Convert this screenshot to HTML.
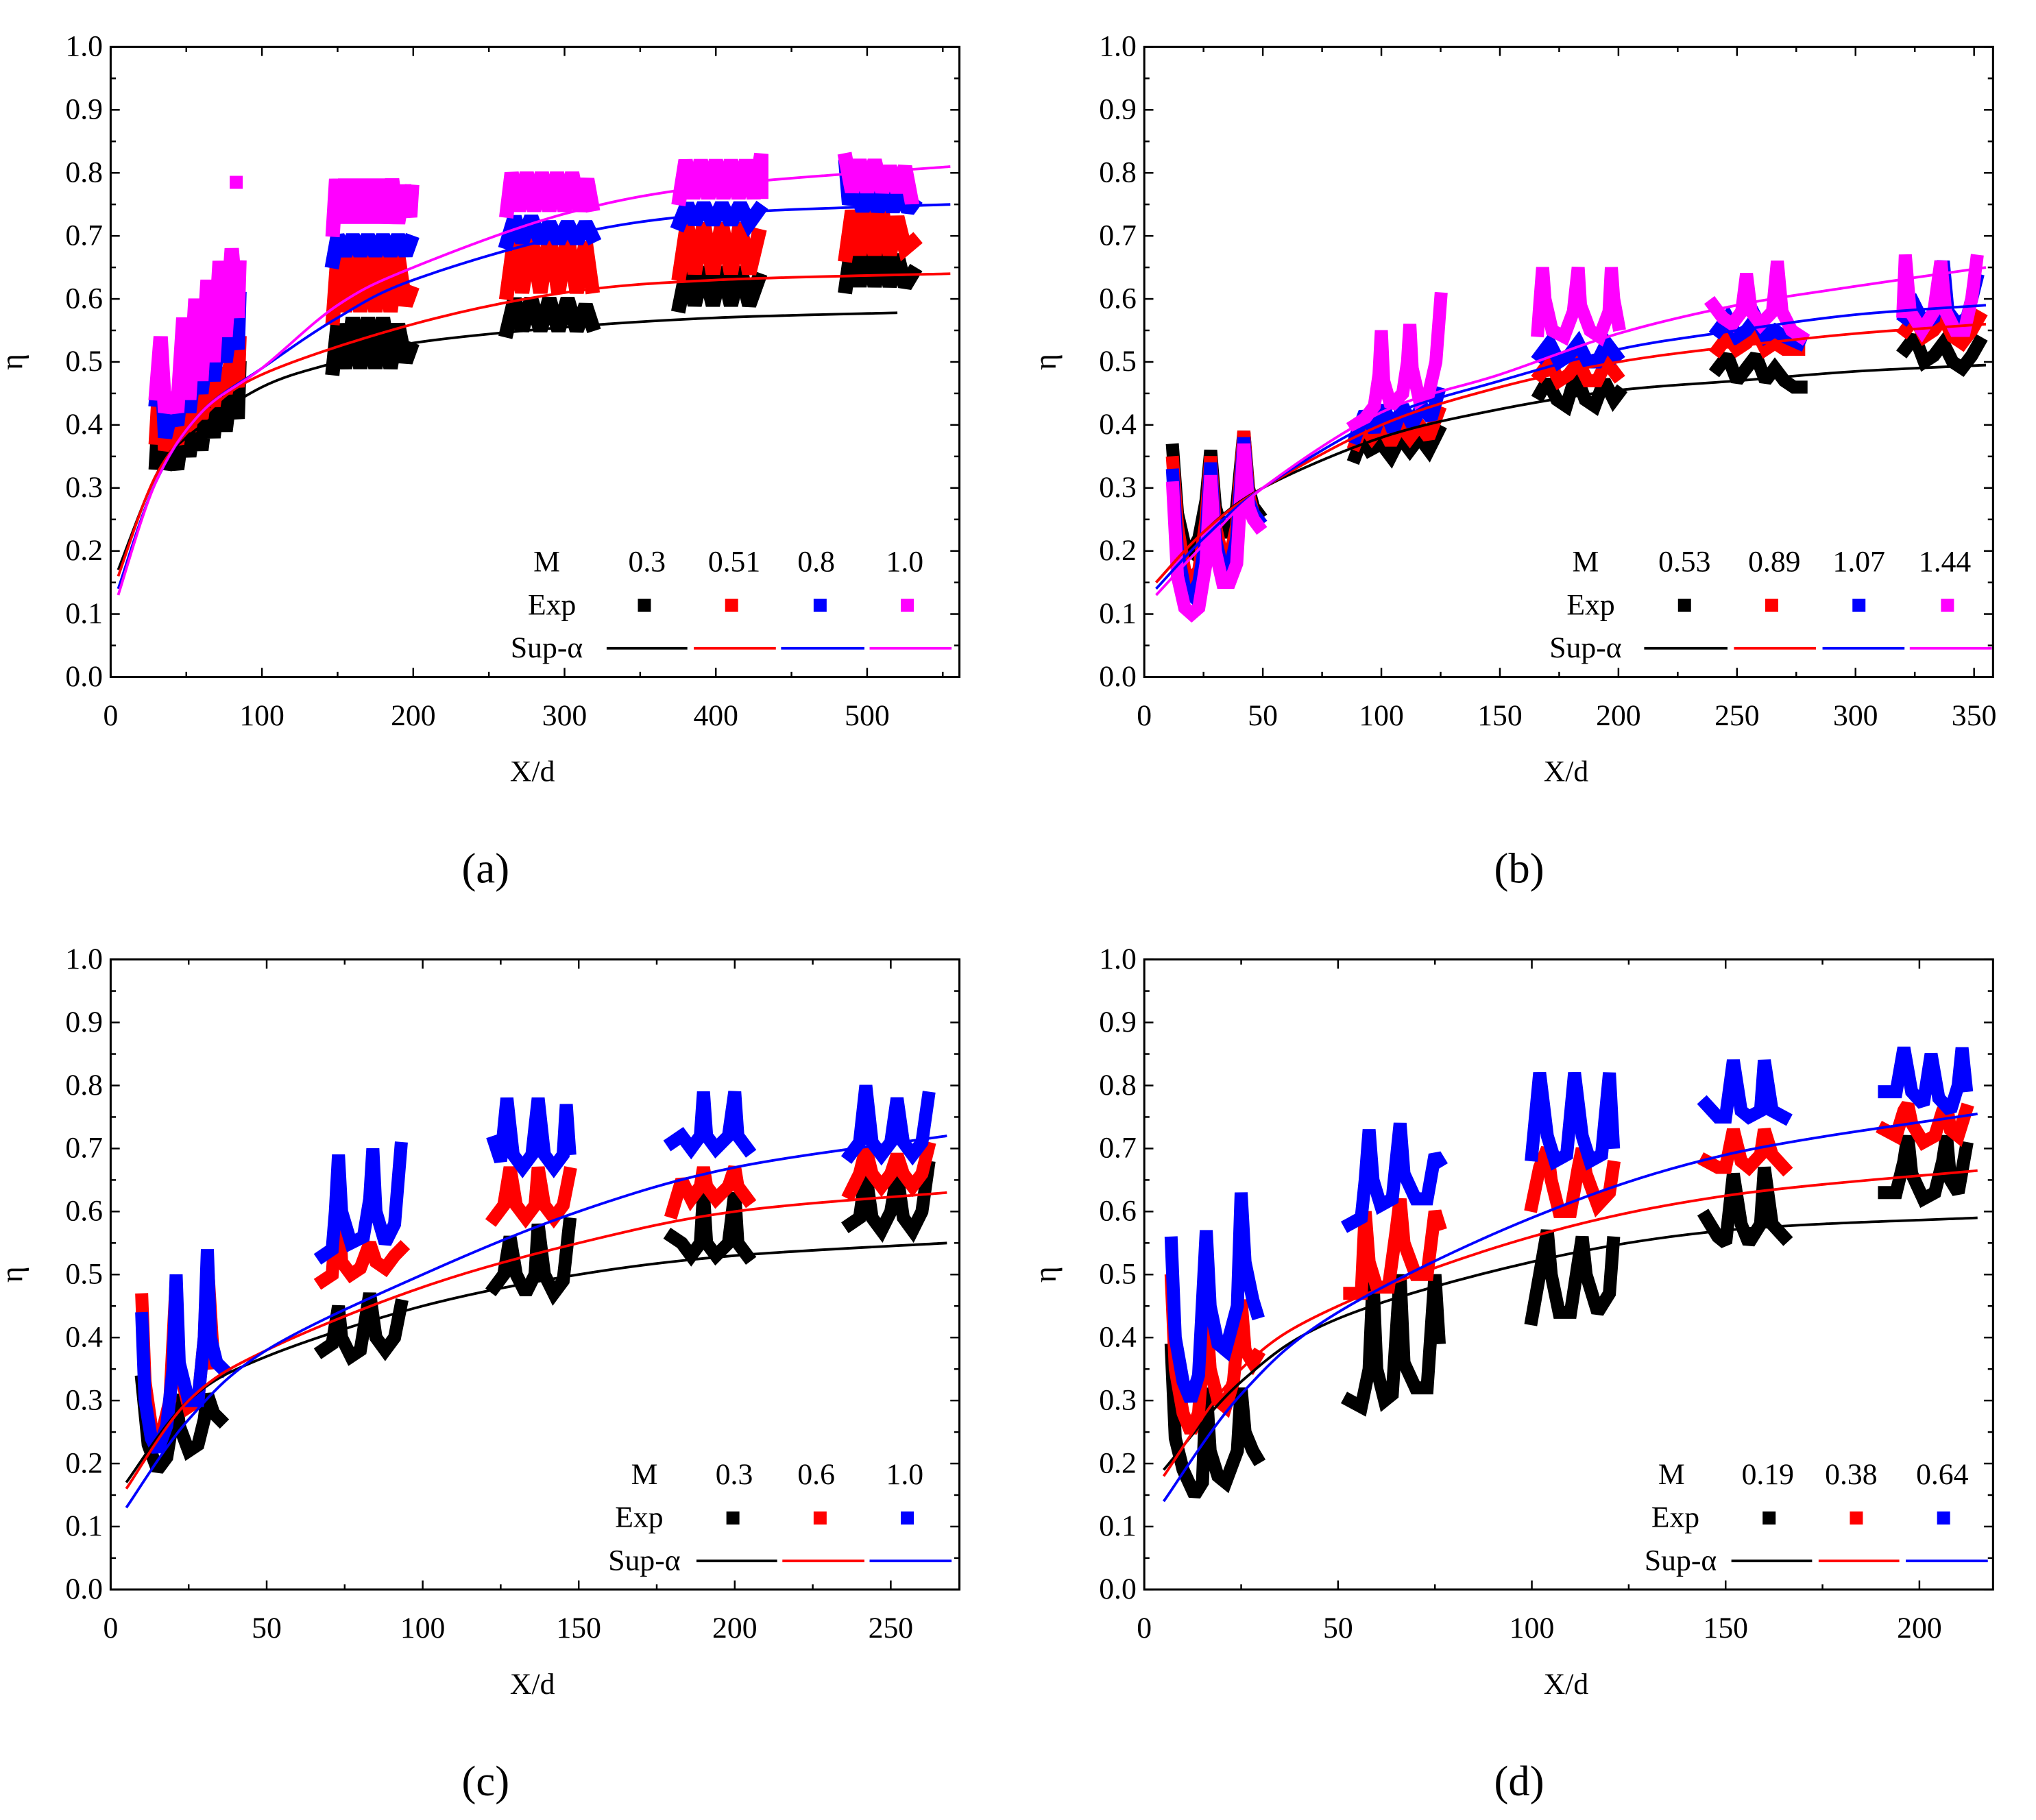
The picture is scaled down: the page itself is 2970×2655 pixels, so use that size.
<!DOCTYPE html>
<html><head><meta charset="utf-8"><style>
html,body{margin:0;padding:0;background:#fff}
svg{display:block}
text{font-family:"Liberation Serif",serif;fill:#000}
</style></head><body>
<svg id="fig" width="2970" height="2655" viewBox="0 0 1564 1398" preserveAspectRatio="none" xmlns="http://www.w3.org/2000/svg"></svg>
<script>
// ---------- data ----------
const panelLabels=["(a)","(b)","(c)","(d)"];
const xMaxes=[561,358,272,219];
const xMajor=[100,50,50,50];
const legendM_a=["0.3","0.51","0.8","1.0"];
const legendM_b=["0.53","0.89","1.07","1.44"];
const legendM_c=["0.3","0.6","1.0"];
const legendM_d=["0.19","0.38","0.64"];
const colors=["#000000","#ff0000","#0000ff","#ff00ff"];

// Sup-alpha curves: [x, eta]
const curveA=[
 [[5,0.17],[30,0.32],[50,0.38],[100,0.46],[150,0.50],[200,0.53],[300,0.555],[400,0.57],[520,0.578]],
 [[5,0.16],[30,0.32],[60,0.41],[100,0.48],[200,0.56],[300,0.61],[400,0.63],[555,0.64]],
 [[5,0.14],[30,0.31],[60,0.42],[100,0.49],[150,0.57],[200,0.63],[300,0.70],[400,0.735],[555,0.75]],
 [[5,0.13],[30,0.31],[60,0.42],[100,0.49],[150,0.59],[200,0.65],[300,0.735],[400,0.78],[555,0.81]]];
const curveB=[
 [[5,0.15],[25,0.23],[50,0.30],[100,0.38],[150,0.425],[200,0.455],[250,0.47],[300,0.485],[355,0.495]],
 [[5,0.15],[25,0.23],[50,0.30],[100,0.40],[150,0.46],[200,0.50],[250,0.525],[300,0.545],[355,0.56]],
 [[5,0.14],[25,0.22],[50,0.30],[100,0.41],[150,0.47],[200,0.52],[250,0.55],[300,0.575],[355,0.59]],
 [[5,0.13],[25,0.21],[50,0.30],[100,0.42],[150,0.48],[200,0.545],[250,0.59],[300,0.62],[355,0.65]]];
const curveC=[
 [[5,0.17],[25,0.30],[50,0.37],[100,0.45],[150,0.50],[200,0.53],[268,0.55]],
 [[5,0.16],[25,0.30],[50,0.38],[100,0.48],[150,0.55],[200,0.60],[268,0.63]],
 [[5,0.13],[25,0.27],[50,0.38],[100,0.50],[150,0.60],[200,0.67],[268,0.72]]];
const curveD=[
 [[5,0.19],[25,0.33],[50,0.43],[100,0.52],[150,0.57],[215,0.59]],
 [[5,0.18],[25,0.35],[50,0.45],[100,0.56],[150,0.625],[215,0.665]],
 [[5,0.14],[25,0.31],[50,0.44],[100,0.59],[150,0.69],[215,0.755]]];

// Experimental clusters: per series, list of clusters of [x, eta]
const expA=[
 [[[30,0.34],[33,0.46],[36,0.33],[40,0.36],[44,0.33],[48,0.40],[52,0.35],[56,0.42],[60,0.36],[64,0.44],[68,0.38],[72,0.46],[76,0.39],[80,0.47],[84,0.41],[85,0.49]],
  [[147,0.49],[150,0.56],[155,0.49],[160,0.57],[165,0.49],[170,0.57],[175,0.49],[180,0.57],[185,0.49],[190,0.56],[195,0.50],[198,0.52]],
  [[262,0.55],[267,0.60],[272,0.55],[278,0.60],[284,0.55],[290,0.60],[296,0.55],[302,0.60],[308,0.55],[314,0.59],[318,0.56]],
  [[376,0.59],[381,0.65],[386,0.59],[392,0.65],[398,0.59],[404,0.65],[410,0.59],[416,0.65],[422,0.59],[428,0.63]],
  [[486,0.62],[490,0.69],[495,0.62],[500,0.69],[505,0.62],[510,0.68],[515,0.62],[520,0.67],[525,0.62],[530,0.64]]],
 [[[30,0.38],[33,0.50],[36,0.36],[40,0.39],[44,0.37],[48,0.44],[52,0.39],[56,0.46],[60,0.41],[64,0.48],[68,0.43],[72,0.49],[76,0.45],[80,0.51],[84,0.46],[85,0.53]],
  [[147,0.57],[150,0.67],[155,0.58],[160,0.68],[165,0.58],[170,0.68],[175,0.58],[180,0.68],[185,0.58],[190,0.67],[195,0.59],[198,0.61]],
  [[262,0.61],[267,0.70],[272,0.61],[278,0.70],[284,0.61],[290,0.70],[296,0.61],[302,0.70],[308,0.61],[314,0.69],[318,0.62]],
  [[376,0.64],[381,0.72],[386,0.64],[392,0.72],[398,0.64],[404,0.72],[410,0.64],[416,0.72],[422,0.64],[428,0.70]],
  [[486,0.67],[490,0.74],[495,0.67],[500,0.74],[505,0.67],[510,0.74],[515,0.67],[520,0.73],[525,0.68],[530,0.69]]],
 [[[30,0.44],[33,0.52],[36,0.38],[40,0.42],[44,0.40],[48,0.48],[52,0.42],[56,0.50],[60,0.45],[64,0.53],[68,0.47],[72,0.55],[76,0.50],[80,0.57],[84,0.52],[85,0.60]],
  [[147,0.66],[150,0.70],[155,0.67],[160,0.70],[165,0.67],[170,0.70],[175,0.67],[180,0.70],[185,0.67],[190,0.70],[195,0.67],[198,0.69]],
  [[262,0.69],[267,0.73],[272,0.69],[278,0.73],[284,0.69],[290,0.72],[296,0.69],[302,0.72],[308,0.69],[314,0.72],[318,0.70]],
  [[376,0.72],[381,0.75],[386,0.72],[392,0.75],[398,0.72],[404,0.75],[410,0.72],[416,0.75],[422,0.72],[428,0.74]],
  [[486,0.81],[488,0.75],[492,0.78],[497,0.74],[502,0.78],[507,0.74],[512,0.77],[517,0.74],[522,0.77],[527,0.74],[530,0.75]]],
 [[[30,0.45],[33,0.54],[36,0.42],[40,0.45],[44,0.42],[48,0.57],[52,0.44],[56,0.60],[60,0.47],[64,0.63],[68,0.50],[72,0.66],[76,0.54],[80,0.68],[84,0.57],[85,0.65]],
  [[83,0.785]],
  [[147,0.71],[149,0.79],[152,0.72],[155,0.79],[158,0.72],[161,0.79],[164,0.72],[167,0.79],[170,0.72],[173,0.79],[176,0.72],[179,0.79],[182,0.72],[186,0.79],[190,0.72],[194,0.78],[198,0.73],[199,0.77]],
  [[262,0.74],[265,0.80],[270,0.74],[275,0.80],[280,0.74],[285,0.80],[290,0.74],[295,0.80],[300,0.74],[305,0.80],[310,0.74],[315,0.79],[318,0.75]],
  [[376,0.76],[380,0.82],[385,0.76],[390,0.82],[395,0.76],[400,0.82],[405,0.76],[410,0.82],[415,0.76],[420,0.82],[425,0.76],[430,0.83],[430,0.77]],
  [[486,0.82],[490,0.77],[495,0.82],[500,0.77],[505,0.82],[510,0.77],[515,0.81],[520,0.77],[525,0.81],[529,0.76]]]];
const expB=[
 [[[12,0.36],[14,0.26],[17,0.21],[20,0.20],[23,0.22],[26,0.28],[28,0.36],[30,0.27],[33,0.23],[36,0.23],[39,0.27],[42,0.39],[44,0.30],[46,0.27],[48,0.26]],
  [[89,0.35],[92,0.38],[95,0.36],[100,0.37],[104,0.35],[108,0.38],[112,0.36],[116,0.38],[120,0.36],[124,0.39]],
  [[167,0.45],[170,0.47],[174,0.44],[178,0.43],[182,0.48],[186,0.44],[190,0.43],[194,0.47],[198,0.44],[200,0.45]],
  [[242,0.49],[246,0.51],[250,0.47],[254,0.49],[258,0.51],[262,0.47],[266,0.49],[270,0.47],[274,0.46],[277,0.46]],
  [[321,0.52],[325,0.54],[329,0.50],[333,0.51],[337,0.53],[341,0.50],[345,0.49],[349,0.51],[352,0.53]]],
 [[[12,0.34],[14,0.24],[17,0.17],[20,0.15],[23,0.17],[26,0.25],[28,0.35],[30,0.24],[33,0.19],[36,0.19],[39,0.24],[42,0.39],[44,0.29],[46,0.26],[48,0.25]],
  [[89,0.37],[92,0.40],[96,0.38],[100,0.40],[104,0.37],[108,0.40],[112,0.38],[116,0.40],[120,0.38],[124,0.42]],
  [[167,0.48],[171,0.50],[175,0.47],[179,0.48],[183,0.50],[187,0.47],[191,0.47],[195,0.50],[199,0.48]],
  [[242,0.52],[246,0.54],[250,0.52],[254,0.53],[258,0.55],[262,0.52],[266,0.53],[270,0.52],[276,0.52]],
  [[321,0.55],[325,0.57],[329,0.54],[333,0.55],[337,0.57],[341,0.54],[345,0.53],[349,0.55],[352,0.57]]],
 [[[12,0.32],[14,0.20],[17,0.14],[20,0.13],[23,0.15],[26,0.22],[28,0.34],[30,0.22],[33,0.17],[36,0.17],[39,0.22],[42,0.38],[44,0.28],[46,0.26],[48,0.25]],
  [[89,0.38],[93,0.42],[97,0.39],[101,0.43],[105,0.39],[109,0.43],[113,0.40],[117,0.43],[121,0.41],[124,0.45]],
  [[167,0.51],[171,0.53],[175,0.50],[179,0.51],[183,0.53],[187,0.50],[191,0.50],[195,0.53],[199,0.51]],
  [[242,0.55],[246,0.57],[250,0.54],[254,0.55],[258,0.57],[262,0.54],[266,0.55],[270,0.54],[276,0.53]],
  [[321,0.57],[325,0.59],[329,0.56],[333,0.57],[337,0.66],[339,0.58],[343,0.56],[347,0.57],[351,0.63]]],
 [[[12,0.30],[14,0.16],[17,0.11],[20,0.10],[23,0.11],[26,0.18],[28,0.32],[30,0.20],[33,0.15],[36,0.15],[39,0.18],[42,0.37],[44,0.27],[46,0.25],[48,0.24]],
  [[89,0.40],[93,0.41],[97,0.43],[99,0.48],[100,0.55],[101,0.47],[104,0.43],[109,0.45],[111,0.50],[112,0.56],[113,0.49],[116,0.44],[120,0.45],[123,0.50],[125,0.60]],
  [[166,0.55],[167,0.60],[168,0.65],[169,0.60],[172,0.55],[177,0.54],[181,0.58],[183,0.65],[184,0.59],[188,0.55],[192,0.54],[196,0.58],[197,0.65],[198,0.60],[200,0.56]],
  [[240,0.59],[244,0.57],[248,0.56],[252,0.58],[254,0.64],[256,0.58],[260,0.56],[265,0.58],[267,0.66],[269,0.58],[273,0.55],[277,0.54]],
  [[320,0.58],[321,0.67],[323,0.58],[328,0.55],[333,0.58],[336,0.66],[338,0.58],[342,0.55],[346,0.55],[349,0.60],[351,0.66]]]];
const expC=[
 [[[10,0.33],[12,0.23],[15,0.19],[18,0.21],[20,0.27],[21,0.31],[22,0.26],[25,0.22],[28,0.23],[30,0.27],[31,0.31],[33,0.28],[35,0.27]],
  [[68,0.38],[71,0.39],[73,0.45],[74,0.40],[77,0.37],[80,0.38],[83,0.47],[85,0.40],[88,0.38],[91,0.40],[93,0.45]],
  [[123,0.48],[126,0.50],[128,0.56],[130,0.50],[133,0.47],[136,0.50],[137,0.58],[139,0.50],[142,0.47],[145,0.49],[147,0.58]],
  [[180,0.56],[183,0.55],[186,0.53],[189,0.55],[190,0.63],[191,0.55],[194,0.53],[198,0.55],[200,0.63],[201,0.55],[204,0.53]],
  [[237,0.58],[240,0.59],[242,0.66],[244,0.59],[247,0.57],[250,0.60],[252,0.66],[254,0.59],[257,0.57],[260,0.60],[262,0.67]]],
 [[[10,0.46],[11,0.33],[13,0.26],[16,0.24],[19,0.30],[21,0.49],[22,0.35],[25,0.29],[28,0.30],[30,0.40],[31,0.52],[33,0.36]],
  [[68,0.49],[71,0.50],[73,0.63],[74,0.52],[77,0.50],[80,0.51],[83,0.55],[85,0.52],[88,0.51],[91,0.53],[93,0.54]],
  [[123,0.59],[126,0.61],[128,0.67],[130,0.61],[133,0.59],[136,0.61],[137,0.67],[139,0.61],[142,0.59],[145,0.61],[147,0.66]],
  [[180,0.60],[183,0.65],[186,0.62],[189,0.64],[190,0.67],[191,0.64],[194,0.62],[198,0.64],[200,0.67],[201,0.64],[204,0.62]],
  [[237,0.63],[240,0.66],[242,0.70],[244,0.66],[247,0.64],[250,0.66],[252,0.69],[254,0.66],[257,0.64],[260,0.66],[262,0.70]]],
 [[[10,0.43],[11,0.30],[13,0.24],[15,0.22],[18,0.26],[20,0.35],[21,0.50],[22,0.36],[25,0.30],[28,0.30],[30,0.40],[31,0.54],[32,0.40],[34,0.36],[36,0.35]],
  [[68,0.53],[71,0.54],[72,0.60],[73,0.69],[74,0.60],[77,0.55],[81,0.56],[83,0.62],[84,0.70],[85,0.60],[88,0.55],[91,0.58],[93,0.70]],
  [[123,0.71],[125,0.68],[127,0.78],[129,0.69],[132,0.67],[135,0.69],[137,0.78],[139,0.69],[142,0.67],[145,0.69],[146,0.77],[147,0.70]],
  [[180,0.71],[183,0.72],[186,0.70],[189,0.72],[190,0.79],[191,0.72],[194,0.70],[198,0.72],[200,0.79],[201,0.72],[204,0.70]],
  [[237,0.69],[240,0.71],[242,0.80],[244,0.71],[247,0.69],[250,0.71],[252,0.78],[254,0.71],[257,0.69],[260,0.71],[262,0.78]]]];
const expD=[
 [[[7,0.38],[8,0.24],[10,0.19],[13,0.15],[15,0.17],[16,0.32],[17,0.22],[19,0.18],[21,0.17],[24,0.22],[25,0.32],[26,0.25],[28,0.22],[29,0.21]],
  [[53,0.30],[56,0.29],[58,0.35],[59,0.49],[60,0.35],[62,0.30],[64,0.31],[66,0.50],[67,0.36],[70,0.32],[73,0.32],[75,0.50],[76,0.40]],
  [[100,0.43],[102,0.50],[104,0.57],[105,0.50],[107,0.44],[110,0.44],[112,0.52],[113,0.56],[114,0.50],[117,0.44],[120,0.47],[121,0.55]],
  [[145,0.59],[148,0.56],[150,0.55],[152,0.66],[154,0.58],[156,0.55],[159,0.58],[160,0.67],[162,0.58],[165,0.56]],
  [[191,0.63],[194,0.63],[196,0.68],[197,0.72],[198,0.66],[201,0.62],[204,0.63],[206,0.68],[207,0.72],[208,0.65],[210,0.63],[212,0.70]]],
 [[[7,0.49],[8,0.35],[10,0.28],[12,0.25],[14,0.28],[16,0.44],[17,0.35],[19,0.30],[21,0.29],[23,0.33],[25,0.46],[26,0.38],[28,0.36],[29,0.37]],
  [[53,0.47],[56,0.47],[57,0.60],[58,0.52],[60,0.48],[63,0.48],[65,0.57],[66,0.62],[67,0.55],[70,0.50],[73,0.50],[75,0.60],[76,0.58]],
  [[100,0.61],[102,0.67],[104,0.70],[105,0.65],[107,0.60],[110,0.60],[112,0.67],[113,0.70],[114,0.66],[117,0.61],[120,0.63],[121,0.67]],
  [[145,0.68],[148,0.67],[150,0.67],[152,0.73],[154,0.68],[156,0.67],[159,0.69],[160,0.73],[162,0.69],[165,0.67]],
  [[191,0.73],[194,0.72],[196,0.76],[197,0.77],[198,0.74],[201,0.71],[204,0.72],[206,0.76],[207,0.77],[208,0.73],[210,0.72],[212,0.76]]],
 [[[7,0.55],[8,0.40],[10,0.33],[12,0.30],[14,0.34],[16,0.57],[17,0.45],[19,0.39],[21,0.38],[24,0.45],[25,0.63],[26,0.52],[28,0.46],[29,0.44]],
  [[53,0.58],[56,0.59],[57,0.65],[58,0.73],[59,0.65],[61,0.61],[64,0.62],[66,0.74],[67,0.66],[70,0.62],[73,0.62],[75,0.69],[76,0.68]],
  [[100,0.69],[102,0.82],[104,0.72],[106,0.68],[109,0.69],[111,0.82],[113,0.72],[115,0.68],[118,0.69],[120,0.82],[121,0.71]],
  [[145,0.77],[148,0.75],[150,0.75],[152,0.84],[154,0.76],[156,0.75],[159,0.76],[160,0.84],[162,0.76],[165,0.75]],
  [[191,0.79],[194,0.79],[196,0.86],[198,0.79],[201,0.77],[203,0.85],[205,0.78],[208,0.76],[210,0.80],[211,0.86],[212,0.80]]]];

// ---------- drawing ----------
const NS="http://www.w3.org/2000/svg";
const svg=document.getElementById('fig');
function mk(tag,attrs,parent){const e=document.createElementNS(NS,tag);for(const k in attrs)e.setAttribute(k,attrs[k]);(parent||svg).appendChild(e);return e;}
function txt(s,x,y,size,anchor,parent){const t=mk('text',{x:x,y:y,'font-size':size,'text-anchor':anchor||'middle'},parent);t.textContent=s;return t;}

const layouts=[
 {L:85,T:36,exp:expA,cur:curveA,M:legendM_a,mX:420,valX:[497,564,627,695],expX:424,mkX:[495,562,630,697],supX:420,lines:[[466,528],[533,596],[600,664],[668,731]]},
 {L:879,T:36,exp:expB,cur:curveB,M:legendM_b,mX:1218,valX:[1294,1363,1428,1494],expX:1222,mkX:[1294,1361,1428,1496],supX:1218,lines:[[1263,1327],[1332,1395],[1400,1463],[1467,1530]]},
 {L:85,T:737,exp:expC,cur:curveC,M:legendM_c,mX:495,valX:[564,627,695],expX:491,mkX:[563,630,697],supX:495,lines:[[535,597],[601,664],[668,731]]},
 {L:879,T:737,exp:expD,cur:curveD,M:legendM_d,mX:1284,valX:[1358,1422,1492],expX:1287,mkX:[1359,1426,1493],supX:1291,lines:[[1330,1392],[1397,1459],[1464,1527]]}];
const W=652,H=484;

layouts.forEach((p,pi)=>{
 const g=mk('g',{});
 
 
 const xmax=xMaxes[pi];
 const sx=v=>p.L+v/xmax*W, sy=v=>p.T+H-v*H;
 const clip='clip'+pi;
 const cp=mk('clipPath',{id:clip},g);mk('rect',{x:p.L,y:p.T,width:W,height:H},cp);
 const eg=mk('g',{'clip-path':'url(#'+clip+')'},g);
 p.exp.forEach((series,si)=>{
  series.forEach((cl,ci)=>{
   if(cl.length===1){
    const r=mk('rect',{x:sx(cl[0][0])-5,y:sy(cl[0][1])-5,width:10,height:10,fill:colors[si]},eg);
    
    
   } else {
    const pl=mk('polyline',{points:cl.map(q=>sx(q[0]).toFixed(1)+','+sy(q[1]).toFixed(1)).join(' '),fill:'none',stroke:colors[si],'stroke-width':pi===0?11:10,'stroke-linecap':'square','stroke-linejoin':'miter','stroke-miterlimit':2},eg);
    
    
   }
  });
 });
 p.cur.forEach((c,si)=>{
  const pts=c.map(q=>[sx(q[0]),sy(q[1])]);
  let d='M'+pts[0][0]+','+pts[0][1];
  for(let i=0;i<pts.length-1;i++){
   const p0=pts[i-1]||pts[i],p1=pts[i],p2=pts[i+1],p3=pts[i+2]||pts[i+1];
   d+=' C'+(p1[0]+(p2[0]-p0[0])/6)+','+(p1[1]+(p2[1]-p0[1])/6)+' '+(p2[0]-(p3[0]-p1[0])/6)+','+(p2[1]-(p3[1]-p1[1])/6)+' '+p2[0]+','+p2[1];
  }
  const path=mk('path',{d:d,fill:'none',stroke:colors[si],'stroke-width':2},g);
  
  
 });
 const fr=mk('rect',{x:p.L,y:p.T,width:W,height:H,fill:'none',stroke:'#000','stroke-width':1.6},g);
 
 
 for(let k=0;k<=20;k++){
  const v=k*0.05,y=sy(v),len=k%2===0?7:4;
  mk('line',{x1:p.L,y1:y,x2:p.L+len,y2:y,stroke:'#000','stroke-width':1.3},g);
  mk('line',{x1:p.L+W,y1:y,x2:p.L+W-len,y2:y,stroke:'#000','stroke-width':1.3},g);
  if(k%2===0){const t=txt((k/20).toFixed(1),p.L-6,y+7,23,'end',g);}
 }
 const step=xMajor[pi]/2;
 for(let k=0;k*step<=xmax;k++){
  const v=k*step,x=sx(v),len=k%2===0?7:4;
  mk('line',{x1:x,y1:p.T+H,x2:x,y2:p.T+H-len,stroke:'#000','stroke-width':1.3},g);
  mk('line',{x1:x,y1:p.T,x2:x,y2:p.T+len,stroke:'#000','stroke-width':1.3},g);
  if(k%2===0){const t=txt(String(v),x,p.T+H+37,23,'middle',g);}
 }
 const xt=txt('X/d',p.L+W/2-2,p.T+H+80,23,'middle',g);
 
 const yt=txt('η',0,0,24,'middle',g);
 yt.setAttribute('transform','translate('+(p.L-68)+','+(p.T+H/2)+') rotate(-90)');
 
 const sl=txt(panelLabels[pi],p.L+288,p.T+H+158,33,'middle',g);
 
 const lg=mk('g',{},g);
 
 
 const yM=p.T+403,yE=p.T+436,yS=p.T+469;
 txt('M',p.mX,yM,23,'middle',lg);
 p.M.forEach((m,i)=>{txt(m,p.valX[i],yM,23,'middle',lg);});
 txt('Exp',p.expX,yE,23,'middle',lg);
 p.mkX.forEach((x,i)=>{const r=mk('rect',{x:x-5,y:yE-12,width:10,height:10,fill:colors[i]},lg);});
 txt('Sup-α',p.supX,yS,23,'middle',lg);
 p.lines.forEach((l,i)=>{const ln=mk('line',{x1:l[0],y1:yS-7,x2:l[1],y2:yS-7,stroke:colors[i],'stroke-width':2},lg);});
});
</script>
</body></html>
